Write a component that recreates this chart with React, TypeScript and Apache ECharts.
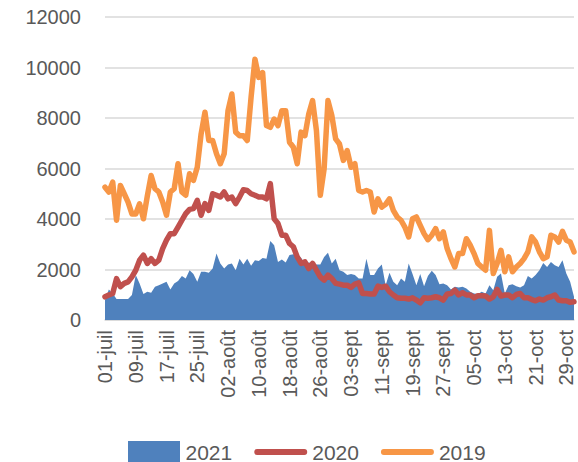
import React, { useEffect, useRef } from "react";
import * as echarts from "echarts";

const monthNames = ["juil", "août", "sept", "oct"];
const monthDays = [31, 31, 30, 31];
const categories: string[] = [];
monthNames.forEach((m, i) => {
  for (let d = 1; d <= monthDays[i]; d++) {
    categories.push((d < 10 ? "0" + d : "" + d) + "-" + m);
  }
});

const seriesNames = ["2021", "2020", "2019"];

const values2021 = [
  790, 1210, 1050, 830, 830, 830, 830, 990, 1780, 1450,
  1030, 1120, 1080, 1320, 1380, 1450, 1510, 1210, 1450, 1540,
  1740, 1640, 1970, 1820, 1510, 1910, 1910, 1870, 2040, 2630,
  2240, 2040, 2200, 2240, 1970, 2430, 2200, 2430, 2150, 2370,
  2340, 2460, 2430, 3130, 2960, 2300, 2400, 2280, 2570, 2600,
  2570, 2470, 2240, 2280, 2240, 2200, 2200, 2500, 2660, 2240,
  2430, 1970, 1910, 1780, 1820, 1780, 1640, 1640, 2430, 1780,
  1780, 2040, 2200, 1380, 1870, 1510, 1380, 1640, 1510, 2240,
  1820, 1380, 1820, 1340, 1740, 1950, 1780, 1420, 1450, 1380,
  1210, 1320, 1290, 1320, 1250, 1120, 1050, 1030, 1120, 1050,
  1380, 1180, 1710, 1840, 1050, 1380, 1420, 1340, 1290, 1380,
  1740, 1640, 1780, 1970, 2260, 2100, 2300, 2170, 2100, 2370,
  1840, 1510, 920,
];

const values2020 = [
  920, 990, 1050, 1640, 1320, 1450, 1510, 1710, 1970, 2370,
  2570, 2240, 2430, 2240, 2370, 2830, 3160, 3420, 3420, 3680,
  3950, 4210, 4380, 4410, 4740, 4150, 4610, 4340, 5000, 4940,
  4870, 5070, 4800, 4870, 4610, 4870, 5160, 5130, 5000, 4940,
  4870, 4870, 4800, 5400, 4010, 3820, 3360, 3360, 3030, 2900,
  2500, 2240, 2300, 2040, 2240, 1970, 1710, 1580, 1780, 1640,
  1450, 1420, 1380, 1380, 1290, 1420, 1470, 1050, 1050, 1030,
  1030, 1340, 1290, 1340, 1120, 990, 880, 860, 860, 830,
  880, 790, 680, 880, 860, 880, 920, 880, 790, 1030,
  1050, 1180, 990, 1080, 990, 990, 880, 960, 960, 950,
  830, 920, 1210, 950, 990, 990, 880, 1010, 1050, 880,
  880, 810, 760, 830, 790, 880, 920, 990, 790, 760,
  760, 700, 720,
];

const values2019 = [
  5260, 5070, 5460, 3950, 5330, 5000, 4670, 4200, 4200, 4600,
  4010, 4900, 5720, 5200, 5070, 4670, 4150, 5070, 5200, 6190,
  5070, 4940, 5790, 5530, 6050, 7370, 8230, 7110, 7110, 6580,
  6190, 6580, 8290, 8950, 7440, 7300, 7300, 7110, 8820, 10330,
  9610, 9800, 7700, 7630, 7960, 7700, 8290, 8290, 7040, 6840,
  6190, 7440, 7300, 8160, 8690, 7500, 4940, 5990, 8690, 8100,
  7170, 6970, 6320, 6710, 6050, 6190, 5130, 5070, 5130, 5070,
  4280, 4800, 4470, 4580, 4800, 4340, 4080, 3950, 3680, 3290,
  4010, 4080, 3750, 3420, 3180, 3360, 3620, 3220, 3490, 2830,
  2430, 2100, 2630, 2630, 3220, 2960, 2630, 2240, 2100, 1970,
  3550, 1840, 2240, 2760, 1910, 2500, 1910, 2100, 2240, 2430,
  2700, 3290, 3090, 2700, 2430, 2500, 3360, 3290, 3090, 3510,
  3160, 3090, 2700,
];

const yTicks = { min: 0, max: 12000, interval: 2000 };

const FONT = "Liberation Sans";
const TEXT = "#595959";
const GRID = "#D9D9D9";
const capsule = "path://M3,0H52A3,3 0 0 1 52,6H3A3,3 0 0 1 3,0Z";

export default function App() {
  const ref = useRef<HTMLDivElement>(null);
  useEffect(() => {
    if (!ref.current) return;
    const chart = echarts.init(ref.current, undefined, { renderer: "svg" });
    chart.setOption({
      animation: false,
      backgroundColor: "#ffffff",
      grid: { left: 105, right: 4, top: 17, bottom: 142 },
      legend: {
        left: 123,
        top: 436,
        itemWidth: 53,
        itemHeight: 22,
        itemGap: 22,
        textStyle: { fontFamily: FONT, fontSize: 21, color: TEXT },
        data: [
          { name: seriesNames[0], icon: "path://M0,0H52V22H0Z" },
          { name: seriesNames[1], icon: capsule },
          { name: seriesNames[2], icon: capsule },
        ],
      },
      xAxis: {
        type: "category",
        data: categories,
        boundaryGap: false,
        axisLine: { lineStyle: { color: GRID, width: 1.5 } },
        axisTick: { show: false },
        axisLabel: {
          interval: 7,
          rotate: 90,
          margin: 10,
          fontFamily: FONT,
          fontSize: 20,
          color: TEXT,
        },
      },
      yAxis: {
        type: "value",
        min: yTicks.min,
        max: yTicks.max,
        interval: yTicks.interval,
        axisLine: { show: false },
        axisTick: { show: false },
        splitLine: { lineStyle: { color: GRID, width: 1.5 } },
        axisLabel: {
          margin: 24,
          fontFamily: FONT,
          fontSize: 20,
          color: TEXT,
          formatter: (v: number) => String(v),
        },
      },
      series: [
        {
          name: seriesNames[0],
          type: "line",
          data: values2021,
          symbol: "none",
          color: "#4F81BD",
          lineStyle: { width: 0, color: "#4F81BD" },
          areaStyle: { color: "#4F81BD", opacity: 1 },
          z: 1,
        },
        {
          name: seriesNames[1],
          type: "line",
          data: values2020,
          symbol: "none",
          color: "#C0504D",
          lineStyle: { width: 5.5, color: "#C0504D", cap: "round", join: "round" },
          z: 2,
        },
        {
          name: seriesNames[2],
          type: "line",
          data: values2019,
          symbol: "none",
          color: "#F79646",
          lineStyle: { width: 5.5, color: "#F79646", cap: "round", join: "round" },
          z: 3,
        },
      ],
    });
    return () => chart.dispose();
  }, []);
  return (
    <div
      ref={ref}
      style={{ position: "absolute", left: 0, top: 0, width: 578, height: 462 }}
    />
  );
}
